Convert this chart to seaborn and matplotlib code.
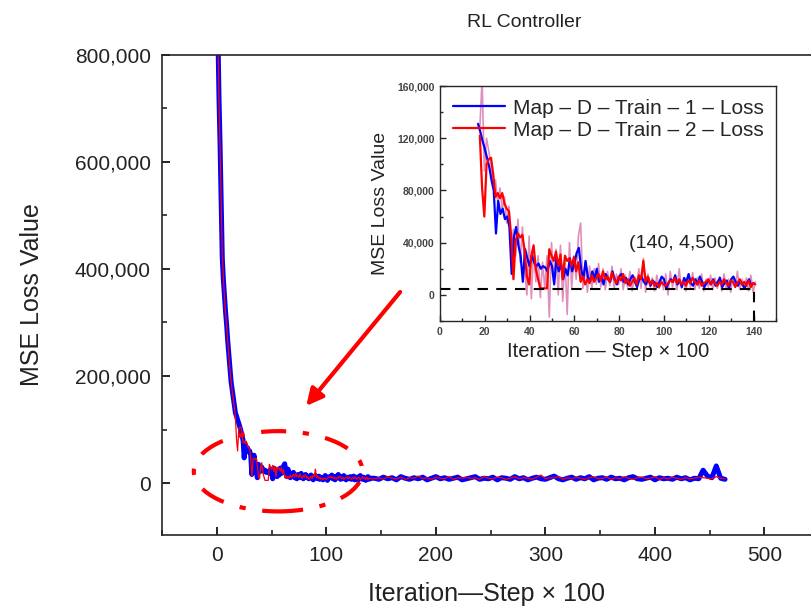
import numpy as np
import pandas as pd
import matplotlib
matplotlib.use("Agg")
import matplotlib.pyplot as plt
import seaborn as sns
from matplotlib.patches import Ellipse
from matplotlib.ticker import FuncFormatter, MultipleLocator

# ---------------- data (loss values in thousands) ----------------
x_early = [0, 1, 2, 3, 4, 5, 6, 7, 8, 9, 10, 11, 12, 13, 14, 15, 16]
blue_early = [1000, 840, 720, 630, 530, 420, 380, 350, 320, 295, 265, 240, 215, 190, 175, 160, 145]
red_early = [990, 830, 715, 625, 525, 425, 385, 345, 318, 292, 262, 238, 212, 192, 172, 158, 142]

mid_start = 17  # iterations 17..140, step 1
blue_mid = [131, 125, 118, 112, 105, 98, 88, 80, 47, 72, 62, 66, 58, 60, 52, 16, 44, 52, 38, 30,
            10, 35, 28, 22, 30, 25, 22, 24, 20, 22, 21, 18, 26, 22, 8, 28, 18, 24, 12, 20,
            15, 28, 18, 24, 32, 36, 20, 12, 26, 14, 10, 18, 12, 20, 10, 14, 8, 16, 12, 10,
            18, 12, 8, 14, 16, 10, 13, 8, 12, 15, 10, 6, 12, 14, 10, 8, 13, 7, 11, 9,
            6, 10, 14, 12, 5, 9, 12, 10, 15, 8, 11, 6, 13, 10, 16, 9, 7, 12, 8, 14,
            10, 6, 9, 11, 8, 12, 7, 10, 13, 6, 9, 11, 5, 12, 14, 10, 7, 11, 8, 5,
            9, 12, 7, 9]
red_mid = [122, 82, 60, 100, 104, 105, 92, 75, 78, 74, 78, 70, 66, 64, 45, 12, 42, 47, 44, 46,
           34, 14, 8, 30, 38, 20, 12, 5, 5, 5, 5, 35, 30, 26, 33, 22, 31, 12, 30, 26,
           28, 22, 29, 18, 25, 10, 14, 8, 12, 9, 15, 10, 13, 16, 11, 18, 12, 14, 10, 17,
           12, 9, 14, 11, 16, 9, 12, 7, 10, 13, 8, 15, 12, 26, 10, 14, 8, 11, 7, 9,
           6, 10, 8, 7, 9, 11, 10, 13, 9, 12, 8, 10, 7, 11, 9, 13, 10, 8, 11, 7,
           9, 10, 12, 8, 11, 9, 7, 10, 8, 12, 9, 7, 11, 10, 6, 9, 12, 8, 10, 7,
           11, 6, 9, 8]
pink_mid = [128, 165, 95, 120, 110, 100, 85, 88, 70, 82, 65, 75, 55, 68, 35, 50, 30, 58, 25, 52,
            20, 0, 45, -3, 35, 10, 30, -2, 25, 5, 30, -17, 40, 10, 35, 0, 38, -5, 30, -15,
            40, 5, 30, 12, 45, 55, 5, 25, 2, 22, 5, 20, 8, 24, 6, 20, 4, 18, 7, 22,
            5, 16, 8, 20, 4, 15, 6, 18, 3, 14, 8, 20, 5, 28, 2, 16, 6, 13, 3, 15,
            5, 12, 4, 16, 0, 18, 6, 14, 4, 20, 5, 12, 3, 15, 6, 17, 4, 13, 5, 16,
            3, 12, 6, 15, 4, 13, 5, 14, 3, 16, 5, 12, 2, 14, 6, 18, 4, 12, 5, 13,
            3, 15, 2, 10]

tail_start, tail_step = 144, 4  # iterations 144..464
blue_tail = [9, 7, 11, 8, 10, 6, 12, 9, 7, 10, 8, 11, 6, 9, 12, 8, 10, 7, 9, 11,
             6, 8, 10, 12, 7, 9, 8, 11, 6, 10, 9, 7, 12, 8, 10, 6, 9, 11, 8, 7,
             10, 13, 8, 6, 9, 11, 7, 10, 8, 12, 6, 9, 10, 7, 11, 8, 9, 6, 10, 12,
             8, 7, 9, 11, 6, 10, 8, 9, 7, 11, 8, 10, 6, 9, 8, 24, 13, 10, 32, 9, 7]
red_tail = [8, 10, 7, 12, 9, 8, 11, 7, 10, 9, 13, 8, 10, 7, 11, 9, 8, 12, 7, 10,
            9, 11, 8, 10, 7, 12, 9, 8, 11, 10, 7, 9, 12, 8, 10, 9, 7, 11, 15, 8,
            10, 9, 12, 7, 10, 8, 11, 9, 7, 10, 12, 8, 9, 11, 7, 10, 8, 12, 9, 7,
            10, 11, 8, 9, 12, 7, 10, 8, 11, 9, 7, 10, 8, 9, 11, 10, 9, 8, 12, 9, 8]

ref_point = (140, 4500)   # annotated converged point

# ---------------- assemble ----------------
def build(early, mid, tail):
    x = list(x_early) + [mid_start + i for i in range(len(mid))] + \
        [tail_start + tail_step * i for i in range(len(tail))]
    y = [v * 1000 for v in list(early) + list(mid) + list(tail)]
    return pd.DataFrame({"iter": x, "loss": y})

def build_mid(mid, offset=0.0):
    return pd.DataFrame({"iter": [mid_start + offset + i for i in range(len(mid))],
                         "loss": [v * 1000 for v in mid]})

df_blue = build(blue_early, blue_mid, blue_tail)
df_red = build(red_early, red_mid, red_tail)
df_in_blue = build_mid(blue_mid)
df_in_red = build_mid(red_mid, 0.8)
df_in_pink = build_mid(pink_mid, 0.8)

# ---------------- style ----------------
sns.set_style("ticks")
plt.rcParams["font.family"] = ["Liberation Sans", "DejaVu Sans"]
plt.rcParams["axes.linewidth"] = 1.2

fig = plt.figure(figsize=(8.11, 6.10), dpi=100)
ax = fig.add_axes([0.1998, 0.123, 0.8002, 0.787])

sns.lineplot(data=df_blue, x="iter", y="loss", ax=ax, color="#0000ff", lw=3.6,
             estimator=None, sort=False)
sns.lineplot(data=df_red, x="iter", y="loss", ax=ax, color="#ff0000", lw=0.9,
             estimator=None, sort=False)

ax.set_xlim(-50, 542.5)
ax.set_ylim(-97000, 800000)
ax.xaxis.set_major_locator(MultipleLocator(100))
ax.xaxis.set_minor_locator(MultipleLocator(50))
ax.yaxis.set_major_locator(MultipleLocator(200000))
ax.yaxis.set_minor_locator(MultipleLocator(100000))
ax.yaxis.set_major_formatter(FuncFormatter(lambda v, p: f"{int(v):,}"))
ax.tick_params(axis="both", which="major", direction="in", length=6, width=1.2,
               labelsize=15, pad=8, colors="#000000", labelcolor="#222222")
ax.tick_params(axis="both", which="minor", direction="in", length=3.5, width=1.2)
ax.spines["right"].set_visible(False)
ax.set_xlabel("Iteration—Step × 100", fontsize=18, labelpad=12, color="#222222")
ax.set_ylabel("MSE Loss Value", fontsize=18, labelpad=22, color="#222222")
fig.text(0.647, 0.963, "RL Controller", fontsize=14, ha="center", va="center",
         color="#222222")

# highlight ellipse and arrow
ax.add_patch(Ellipse((56, 22000), 154, 150000, fill=False, edgecolor="#ff0000",
                     lw=3, linestyle=(0, (6, 4, 1.5, 4)), zorder=5))
ax.annotate("", xy=(80, 140000), xytext=(169, 361000),
            arrowprops=dict(arrowstyle="-|>", color="#ff0000", lw=3,
                            mutation_scale=25), zorder=6)

# ---------------- inset ----------------
axin = fig.add_axes([0.5425, 0.4738, 0.4143, 0.3852])
axin.set_facecolor("white")
sns.lineplot(data=df_in_pink, x="iter", y="loss", ax=axin, color="#d66aa6", lw=1.2,
             alpha=0.75, estimator=None, sort=False)
sns.lineplot(data=df_in_blue, x="iter", y="loss", ax=axin, color="#0000ff", lw=1.6,
             estimator=None, sort=False, label="Map – D – Train – 1 – Loss")
sns.lineplot(data=df_in_red, x="iter", y="loss", ax=axin, color="#ff0000", lw=1.6,
             estimator=None, sort=False, label="Map – D – Train – 2 – Loss")
axin.hlines(ref_point[1], 0, ref_point[0], colors="black", linestyles=(0, (5, 4)), lw=1.5)
axin.vlines(ref_point[0], -20000, ref_point[1], colors="black", linestyles=(0, (5, 4)), lw=1.5)
axin.text(108, 39000, "(140, 4,500)", fontsize=14, ha="center", va="center",
          color="#222222")
axin.set_xlim(0, 150)
axin.set_ylim(-20000, 160000)
axin.xaxis.set_major_locator(MultipleLocator(20))
axin.xaxis.set_minor_locator(MultipleLocator(10))
axin.yaxis.set_major_locator(MultipleLocator(40000))
axin.yaxis.set_minor_locator(MultipleLocator(20000))
axin.yaxis.set_major_formatter(FuncFormatter(lambda v, p: f"{int(v):,}"))
axin.tick_params(axis="both", which="major", direction="in", length=4, width=1,
                 labelsize=7.5, pad=4, labelcolor="#444444")
axin.tick_params(axis="both", which="minor", direction="in", length=2, width=1)
for lab in axin.get_xticklabels() + axin.get_yticklabels():
    lab.set_fontweight("bold")
for s in axin.spines.values():
    s.set_linewidth(1.0)
axin.set_xlabel("Iteration — Step × 100", fontsize=14.5, labelpad=4, color="#222222")
axin.set_ylabel("MSE Loss Value", fontsize=14, labelpad=6, color="#222222")
leg = axin.legend(loc="upper right", frameon=False, fontsize=15, handlelength=2.5,
                  handletextpad=0.35, borderaxespad=0.2, labelspacing=0.15)

fig.savefig("out.png", dpi=100)
